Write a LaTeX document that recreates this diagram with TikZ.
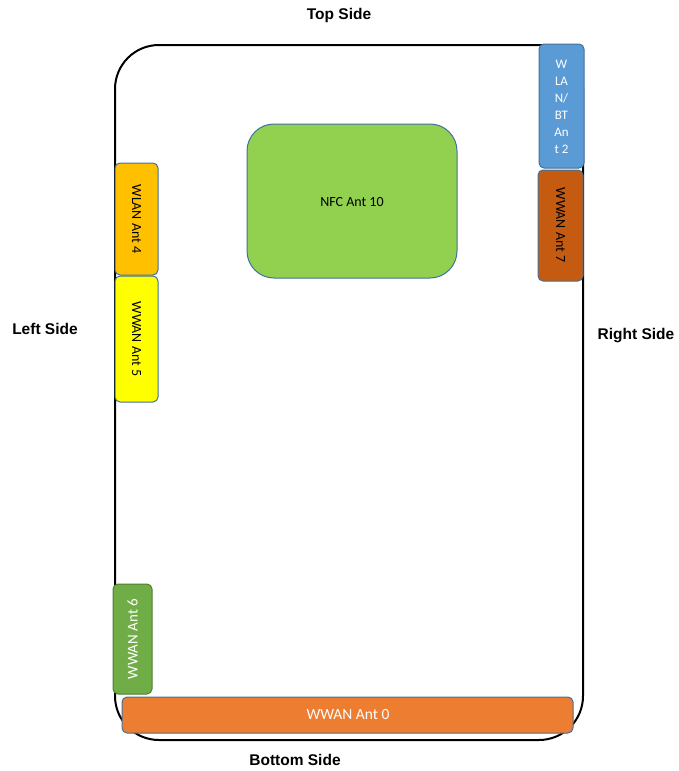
\documentclass[tikz,border=0pt]{standalone}
\usepackage{fontspec}
\setmainfont{Carlito}
\newfontfamily\arialfont{Liberation Sans}
\definecolor{bluebd}{HTML}{41719C}
\definecolor{greenbd}{HTML}{507E32}
\definecolor{cBlue}{HTML}{5B9BD5}
\definecolor{cRust}{HTML}{C55A11}
\definecolor{cNfc}{HTML}{92D050}
\definecolor{cGold}{HTML}{FFC000}
\definecolor{cYel}{HTML}{FFFF00}
\definecolor{cGreen}{HTML}{70AD47}
\definecolor{cOrange}{HTML}{ED7D31}
\begin{document}
\begin{tikzpicture}[x=1pt,y=-1pt,
  sidelabel/.style={font=\arialfont\bfseries\fontsize{15.5}{18}\selectfont, inner sep=0pt},
  antbox/.style={draw=bluebd, line width=1pt, rounded corners=5pt},
  boxtext/.style={font=\fontsize{14}{17}\selectfont, inner sep=0pt, align=center}]
\useasboundingbox (0,0) rectangle (679,771);
% frame
\draw[line width=2pt, rounded corners=44pt] (115,45) rectangle (583,740);
% boxes
\filldraw[antbox, fill=cBlue] (539,44) rectangle (584,168);
\node[boxtext, text=white, font=\fontsize{13}{17}\selectfont] (wlanbt) at (561.5,107) {W\\LA\\N/\\BT\\An\\t 2};
\filldraw[antbox, fill=cRust] (538,170) rectangle (583,281);
\node[boxtext, rotate=-90] (wwan7) at (560.5,225) {WWAN Ant 7};
\filldraw[draw=bluebd, line width=1pt, rounded corners=27pt, fill=cNfc] (247,124) rectangle (457,278);
\node[boxtext] (nfc) at (352,202) {NFC Ant 10};
\filldraw[antbox, fill=cGold] (115,163) rectangle (158,275);
\node[boxtext, rotate=-90] (wlan4) at (136.5,219) {WLAN Ant 4};
\filldraw[antbox, fill=cYel] (115,276) rectangle (158,402);
\node[boxtext, rotate=-90] (wwan5) at (136.5,339) {WWAN Ant 5};
\filldraw[antbox, draw=greenbd, fill=cGreen] (113,584) rectangle (152,694);
\node[boxtext, text=white, rotate=90, font=\fontsize{15}{17}\selectfont] (wwan6) at (132.5,639) {WWAN Ant 6};
\filldraw[antbox, fill=cOrange] (122,697) rectangle (573,733);
\node[boxtext, text=white, font=\fontsize{15.5}{17}\selectfont] (wwan0) at (348,715) {WWAN Ant 0};
% side labels
\node[sidelabel] (top) at (339,15) {Top Side};
\node[sidelabel] (left) at (45,329) {Left Side};
\node[sidelabel] (right) at (636,336) {Right Side};
\node[sidelabel] (bottom) at (295,760) {Bottom Side};
\end{tikzpicture}
\end{document}
